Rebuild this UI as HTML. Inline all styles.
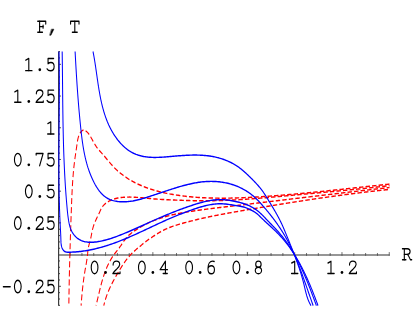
<!DOCTYPE html>
<html><head><meta charset="utf-8"><title>F, T vs R</title><style>
html,body{margin:0;padding:0;background:#fff;font-family:"Liberation Sans",sans-serif}
#c{position:relative;width:416px;height:319px;overflow:hidden;background:#fff}
.t{position:absolute;font-family:"Liberation Mono",monospace;font-size:18.3px;line-height:20px;height:20px;white-space:pre;color:transparent;user-select:none}
</style></head><body><div id="c">
<svg width="416" height="319" viewBox="0 0 416 319" style="position:absolute;left:0;top:0">
<rect x="58.0" y="254" width="331.6" height="2" fill="#969696"/>
<line x1="58.6" y1="51.5" x2="58.6" y2="305.8" stroke="#3c3c3c" stroke-width="1.2"/>
<g stroke="#404040" stroke-width="0.75" fill="none">
<line x1="70.12" y1="255.8" x2="70.12" y2="253.0"/>
<line x1="81.94" y1="255.8" x2="81.94" y2="253.0"/>
<line x1="93.76" y1="255.8" x2="93.76" y2="253.0"/>
<line x1="105.58" y1="255.8" x2="105.58" y2="252.1"/>
<line x1="117.40" y1="255.8" x2="117.40" y2="253.0"/>
<line x1="129.22" y1="255.8" x2="129.22" y2="253.0"/>
<line x1="141.04" y1="255.8" x2="141.04" y2="253.0"/>
<line x1="152.86" y1="255.8" x2="152.86" y2="252.1"/>
<line x1="164.68" y1="255.8" x2="164.68" y2="253.0"/>
<line x1="176.50" y1="255.8" x2="176.50" y2="253.0"/>
<line x1="188.32" y1="255.8" x2="188.32" y2="253.0"/>
<line x1="200.14" y1="255.8" x2="200.14" y2="252.1"/>
<line x1="211.96" y1="255.8" x2="211.96" y2="253.0"/>
<line x1="223.78" y1="255.8" x2="223.78" y2="253.0"/>
<line x1="235.60" y1="255.8" x2="235.60" y2="253.0"/>
<line x1="247.42" y1="255.8" x2="247.42" y2="252.1"/>
<line x1="259.24" y1="255.8" x2="259.24" y2="253.0"/>
<line x1="271.06" y1="255.8" x2="271.06" y2="253.0"/>
<line x1="282.88" y1="255.8" x2="282.88" y2="253.0"/>
<line x1="294.70" y1="255.8" x2="294.70" y2="252.1"/>
<line x1="306.52" y1="255.8" x2="306.52" y2="253.0"/>
<line x1="318.34" y1="255.8" x2="318.34" y2="253.0"/>
<line x1="330.16" y1="255.8" x2="330.16" y2="253.0"/>
<line x1="341.98" y1="255.8" x2="341.98" y2="252.1"/>
<line x1="353.80" y1="255.8" x2="353.80" y2="253.0"/>
<line x1="365.62" y1="255.8" x2="365.62" y2="253.0"/>
<line x1="377.44" y1="255.8" x2="377.44" y2="253.0"/>
<line x1="389.26" y1="255.8" x2="389.26" y2="252.1"/>
<line x1="58.6" y1="305.34" x2="60.00" y2="305.34" stroke-width="1.0"/>
<line x1="58.6" y1="299.00" x2="60.00" y2="299.00" stroke-width="1.0"/>
<line x1="58.6" y1="292.65" x2="60.00" y2="292.65" stroke-width="1.0"/>
<line x1="58.6" y1="286.31" x2="60.90" y2="286.31" stroke-width="1.0"/>
<line x1="58.6" y1="279.97" x2="60.00" y2="279.97" stroke-width="1.0"/>
<line x1="58.6" y1="273.63" x2="60.00" y2="273.63" stroke-width="1.0"/>
<line x1="58.6" y1="267.28" x2="60.00" y2="267.28" stroke-width="1.0"/>
<line x1="58.6" y1="260.94" x2="60.00" y2="260.94" stroke-width="1.0"/>
<line x1="58.6" y1="248.26" x2="60.00" y2="248.26" stroke-width="1.0"/>
<line x1="58.6" y1="241.91" x2="60.00" y2="241.91" stroke-width="1.0"/>
<line x1="58.6" y1="235.57" x2="60.00" y2="235.57" stroke-width="1.0"/>
<line x1="58.6" y1="229.23" x2="60.00" y2="229.23" stroke-width="1.0"/>
<line x1="58.6" y1="222.89" x2="60.90" y2="222.89" stroke-width="1.0"/>
<line x1="58.6" y1="216.54" x2="60.00" y2="216.54" stroke-width="1.0"/>
<line x1="58.6" y1="210.20" x2="60.00" y2="210.20" stroke-width="1.0"/>
<line x1="58.6" y1="203.86" x2="60.00" y2="203.86" stroke-width="1.0"/>
<line x1="58.6" y1="197.52" x2="60.00" y2="197.52" stroke-width="1.0"/>
<line x1="58.6" y1="191.18" x2="60.90" y2="191.18" stroke-width="1.0"/>
<line x1="58.6" y1="184.83" x2="60.00" y2="184.83" stroke-width="1.0"/>
<line x1="58.6" y1="178.49" x2="60.00" y2="178.49" stroke-width="1.0"/>
<line x1="58.6" y1="172.15" x2="60.00" y2="172.15" stroke-width="1.0"/>
<line x1="58.6" y1="165.81" x2="60.00" y2="165.81" stroke-width="1.0"/>
<line x1="58.6" y1="159.46" x2="60.90" y2="159.46" stroke-width="1.0"/>
<line x1="58.6" y1="153.12" x2="60.00" y2="153.12" stroke-width="1.0"/>
<line x1="58.6" y1="146.78" x2="60.00" y2="146.78" stroke-width="1.0"/>
<line x1="58.6" y1="140.44" x2="60.00" y2="140.44" stroke-width="1.0"/>
<line x1="58.6" y1="134.09" x2="60.00" y2="134.09" stroke-width="1.0"/>
<line x1="58.6" y1="127.75" x2="60.90" y2="127.75" stroke-width="1.0"/>
<line x1="58.6" y1="121.41" x2="60.00" y2="121.41" stroke-width="1.0"/>
<line x1="58.6" y1="115.06" x2="60.00" y2="115.06" stroke-width="1.0"/>
<line x1="58.6" y1="108.72" x2="60.00" y2="108.72" stroke-width="1.0"/>
<line x1="58.6" y1="102.38" x2="60.00" y2="102.38" stroke-width="1.0"/>
<line x1="58.6" y1="96.04" x2="60.90" y2="96.04" stroke-width="1.0"/>
<line x1="58.6" y1="89.69" x2="60.00" y2="89.69" stroke-width="1.0"/>
<line x1="58.6" y1="83.35" x2="60.00" y2="83.35" stroke-width="1.0"/>
<line x1="58.6" y1="77.01" x2="60.00" y2="77.01" stroke-width="1.0"/>
<line x1="58.6" y1="70.67" x2="60.00" y2="70.67" stroke-width="1.0"/>
<line x1="58.6" y1="64.33" x2="60.90" y2="64.33" stroke-width="1.0"/>
<line x1="58.6" y1="57.98" x2="60.00" y2="57.98" stroke-width="1.0"/>
<line x1="58.6" y1="51.64" x2="60.00" y2="51.64" stroke-width="1.0"/>
</g>
<g transform="scale(1 1.38)">
<g stroke="#ff0000" stroke-width="1.03" fill="none" stroke-dasharray="4.4 2.15">
<path d="M389.50 133.42 L388.23 133.51 L386.96 133.61 L385.69 133.71 L384.41 133.80 L383.14 133.90 L381.87 134.00 L380.60 134.10 L379.33 134.20 L378.06 134.29 L376.78 134.39 L375.51 134.49 L374.24 134.59 L372.97 134.69 L371.70 134.79 L370.43 134.89 L369.16 134.99 L367.89 135.09 L366.61 135.19 L365.34 135.29 L364.07 135.39 L362.80 135.50 L361.53 135.60 L360.26 135.70 L358.99 135.80 L357.72 135.90 L356.45 136.00 L355.18 136.10 L353.91 136.20 L352.64 136.30 L351.37 136.41 L350.10 136.51 L348.83 136.61 L347.56 136.71 L346.29 136.81 L345.02 136.91 L343.75 137.01 L342.47 137.11 L341.20 137.21 L339.93 137.31 L338.66 137.41 L337.39 137.51 L336.12 137.61 L334.85 137.71 L333.58 137.81 L332.31 137.91 L331.04 138.01 L329.77 138.10 L328.50 138.20 L327.23 138.30 L325.96 138.40 L324.69 138.49 L323.42 138.59 L322.15 138.69 L320.88 138.78 L319.61 138.88 L318.33 138.97 L317.06 139.07 L315.79 139.16 L314.52 139.25 L313.25 139.35 L311.98 139.44 L310.71 139.53 L309.44 139.62 L308.17 139.71 L306.89 139.80 L305.62 139.89 L304.35 139.98 L303.08 140.07 L301.81 140.16 L300.54 140.25 L299.26 140.33 L297.99 140.42 L296.72 140.50 L295.45 140.59 L294.17 140.67 L292.90 140.75 L291.63 140.84 L290.36 140.92 L289.08 141.00 L287.81 141.08 L286.54 141.16 L285.26 141.24 L283.99 141.31 L282.72 141.39 L281.44 141.47 L280.17 141.54 L278.89 141.62 L277.62 141.69 L276.35 141.76 L275.07 141.83 L273.80 141.90 L272.52 141.97 L271.25 142.04 L269.97 142.11 L268.70 142.17 L267.42 142.24 L266.14 142.30 L264.87 142.37 L263.59 142.43 L262.32 142.49 L261.04 142.55 L259.76 142.61 L258.49 142.67 L257.21 142.72 L255.93 142.78 L254.65 142.83 L253.38 142.89 L252.10 142.94 L250.82 142.99 L249.54 143.04 L248.26 143.08 L246.99 143.13 L245.71 143.17 L244.43 143.21 L243.15 143.25 L241.87 143.29 L240.59 143.33 L239.31 143.36 L238.03 143.40 L236.76 143.43 L235.48 143.46 L234.20 143.48 L232.92 143.50 L231.64 143.53 L230.36 143.55 L229.08 143.56 L227.80 143.58 L226.53 143.59 L225.25 143.60 L223.97 143.60 L222.69 143.61 L221.41 143.61 L220.13 143.60 L218.86 143.60 L217.58 143.59 L216.30 143.58 L215.02 143.57 L213.75 143.55 L212.47 143.53 L211.19 143.50 L209.92 143.48 L208.64 143.45 L207.36 143.41 L206.09 143.37 L204.81 143.33 L203.54 143.29 L202.26 143.24 L200.99 143.19 L199.72 143.13 L198.44 143.07 L197.17 143.01 L195.90 142.94 L194.62 142.87 L193.35 142.79 L192.08 142.71 L190.81 142.63 L189.54 142.54 L188.27 142.44 L187.00 142.35 L185.73 142.24 L184.46 142.14 L183.19 142.03 L181.92 141.91 L180.65 141.79 L179.38 141.66 L178.12 141.53 L176.85 141.40 L175.59 141.26 L174.32 141.11 L173.06 140.96 L171.80 140.80 L170.54 140.64 L169.28 140.47 L168.02 140.30 L166.77 140.11 L165.51 139.92 L164.26 139.73 L163.02 139.53 L161.77 139.32 L160.53 139.10 L159.29 138.87 L158.05 138.64 L156.82 138.40 L155.59 138.15 L154.36 137.89 L153.14 137.63 L151.92 137.35 L150.70 137.07 L149.49 136.78 L148.28 136.47 L147.08 136.16 L145.88 135.84 L144.69 135.51 L143.50 135.17 L142.32 134.81 L141.14 134.45 L139.97 134.08 L138.80 133.69 L137.64 133.30 L136.49 132.89 L135.34 132.48 L134.20 132.05 L133.07 131.61 L131.95 131.16 L130.83 130.70 L129.73 130.22 L128.63 129.74 L127.55 129.24 L126.47 128.73 L125.41 128.21 L124.36 127.68 L123.32 127.14 L122.30 126.58 L121.29 126.02 L120.29 125.44 L119.31 124.85 L118.34 124.25 L117.38 123.63 L116.45 123.01 L115.53 122.37 L114.62 121.72 L113.74 121.05 L112.87 120.38 L112.01 119.69 L111.16 119.00 L110.32 118.30 L109.49 117.60 L108.67 116.89 L107.85 116.18 L107.03 115.47 L106.21 114.75 L105.39 114.04 L104.56 113.34 L103.73 112.63 L102.88 111.93 L102.03 111.24 L101.17 110.55 L100.32 109.87 L99.47 109.17 L98.65 108.47 L97.84 107.75 L97.08 107.02 L96.34 106.26 L95.63 105.49 L94.95 104.71 L94.29 103.91 L93.65 103.11 L93.03 102.30 L92.41 101.48 L91.80 100.67 L91.20 99.86 L90.59 99.05 L89.94 98.25 L89.24 97.47 L88.46 96.71 L87.58 95.99 L86.56 95.30 L85.42 94.71 L84.24 94.33 L83.12 94.31 L82.10 94.69 L81.21 95.33 L80.43 96.09 L79.77 96.88 L79.20 97.71 L78.73 98.56 L78.33 99.44 L78.00 100.34 L77.73 101.25 L77.49 102.18 L77.29 103.11 L77.11 104.05 L76.93 104.99 L76.75 105.92 L76.57 106.85 L76.38 107.77 L76.19 108.69 L76.00 109.60 L75.81 110.52 L75.62 111.43 L75.43 112.34 L75.24 113.25 L75.06 114.16 L74.89 115.07 L74.72 115.98 L74.56 116.90 L74.40 117.81 L74.26 118.73 L74.11 119.64 L73.97 120.56 L73.84 121.48 L73.71 122.39 L73.59 123.31 L73.47 124.23 L73.35 125.15 L73.24 126.07 L73.14 127.00 L73.03 127.92 L72.94 128.84 L72.84 129.76 L72.75 130.69 L72.67 131.61 L72.58 132.54 L72.50 133.46 L72.43 134.39 L72.35 135.31 L72.28 136.24 L72.21 137.17 L72.15 138.09 L72.08 139.02 L72.02 139.95 L71.96 140.87 L71.91 141.80 L71.85 142.73 L71.79 143.66 L71.74 144.58 L71.69 145.51 L71.64 146.44 L71.59 147.37 L71.54 148.30 L71.49 149.22 L71.44 150.15 L71.40 151.08 L71.35 152.01 L71.30 152.93 L71.26 153.86 L71.21 154.79 L71.16 155.72 L71.12 156.64 L71.07 157.57 L71.03 158.50 L70.98 159.42 L70.94 160.35 L70.89 161.28 L70.85 162.20 L70.80 163.13 L70.76 164.05 L70.72 164.98 L70.67 165.91 L70.63 166.83 L70.59 167.76 L70.55 168.68 L70.51 169.61 L70.46 170.53 L70.42 171.46 L70.38 172.38 L70.34 173.31 L70.30 174.24 L70.26 175.16 L70.22 176.09 L70.18 177.01 L70.15 177.94 L70.11 178.86 L70.07 179.79 L70.03 180.71 L69.99 181.64 L69.96 182.56 L69.92 183.49 L69.89 184.41 L69.85 185.34 L69.82 186.26 L69.78 187.19 L69.75 188.11 L69.71 189.04 L69.68 189.96 L69.65 190.89 L69.61 191.81 L69.58 192.74 L69.55 193.66 L69.52 194.59 L69.49 195.51 L69.46 196.44 L69.43 197.36 L69.40 198.29 L69.37 199.21 L69.34 200.14 L69.32 201.07 L69.29 201.99 L69.26 202.92 L69.24 203.84 L69.21 204.77 L69.19 205.69 L69.16 206.62 L69.14 207.55 L69.11 208.47 L69.09 209.40 L69.07 210.33 L69.05 211.25 L69.02 212.18 L69.00 213.11 L68.98 214.03 L68.96 214.96 L68.94 215.89 L68.93 216.81 L68.91 217.74 L68.89 218.67 L68.87 219.60 L68.86 220.53 L68.84 221.45" stroke-dashoffset="0"/>
<path d="M389.50 134.49 L388.52 134.57 L387.54 134.66 L386.57 134.74 L385.59 134.83 L384.61 134.91 L383.63 134.99 L382.65 135.08 L381.67 135.16 L380.70 135.24 L379.72 135.32 L378.74 135.40 L377.76 135.48 L376.78 135.56 L375.80 135.64 L374.83 135.72 L373.85 135.79 L372.87 135.87 L371.89 135.95 L370.91 136.03 L369.93 136.10 L368.96 136.18 L367.98 136.25 L367.00 136.33 L366.02 136.40 L365.04 136.48 L364.06 136.55 L363.08 136.63 L362.11 136.70 L361.13 136.77 L360.15 136.85 L359.17 136.92 L358.19 136.99 L357.21 137.06 L356.24 137.13 L355.26 137.20 L354.28 137.27 L353.30 137.35 L352.32 137.42 L351.34 137.49 L350.36 137.56 L349.39 137.63 L348.41 137.69 L347.43 137.76 L346.45 137.83 L345.47 137.90 L344.49 137.97 L343.51 138.04 L342.54 138.11 L341.56 138.17 L340.58 138.24 L339.60 138.31 L338.62 138.38 L337.64 138.44 L336.66 138.51 L335.68 138.58 L334.71 138.64 L333.73 138.71 L332.75 138.78 L331.77 138.84 L330.79 138.91 L329.81 138.98 L328.83 139.04 L327.85 139.11 L326.87 139.17 L325.90 139.24 L324.92 139.31 L323.94 139.37 L322.96 139.44 L321.98 139.50 L321.00 139.57 L320.02 139.63 L319.04 139.70 L318.06 139.77 L317.08 139.83 L316.10 139.90 L315.12 139.96 L314.15 140.03 L313.17 140.09 L312.19 140.16 L311.21 140.22 L310.23 140.29 L309.25 140.36 L308.27 140.42 L307.29 140.49 L306.31 140.55 L305.33 140.62 L304.35 140.69 L303.37 140.75 L302.39 140.82 L301.41 140.89 L300.43 140.95 L299.45 141.02 L298.47 141.09 L297.49 141.15 L296.51 141.22 L295.53 141.29 L294.55 141.35 L293.57 141.42 L292.59 141.49 L291.61 141.56 L290.63 141.62 L289.65 141.69 L288.67 141.76 L287.69 141.82 L286.71 141.89 L285.73 141.96 L284.75 142.02 L283.77 142.09 L282.79 142.16 L281.81 142.22 L280.83 142.29 L279.85 142.35 L278.87 142.42 L277.89 142.48 L276.91 142.55 L275.93 142.61 L274.95 142.68 L273.97 142.74 L272.99 142.80 L272.01 142.87 L271.02 142.93 L270.04 142.99 L269.06 143.05 L268.08 143.12 L267.10 143.18 L266.12 143.24 L265.14 143.30 L264.16 143.36 L263.18 143.42 L262.20 143.48 L261.22 143.53 L260.23 143.59 L259.25 143.65 L258.27 143.71 L257.29 143.76 L256.31 143.82 L255.33 143.87 L254.35 143.93 L253.37 143.98 L252.38 144.03 L251.40 144.09 L250.42 144.14 L249.44 144.19 L248.46 144.24 L247.48 144.29 L246.49 144.34 L245.51 144.38 L244.53 144.43 L243.55 144.48 L242.57 144.52 L241.59 144.57 L240.60 144.61 L239.62 144.65 L238.64 144.70 L237.66 144.74 L236.68 144.78 L235.69 144.82 L234.71 144.85 L233.73 144.89 L232.75 144.93 L231.77 144.96 L230.78 145.00 L229.80 145.03 L228.82 145.06 L227.84 145.09 L226.85 145.12 L225.87 145.15 L224.89 145.18 L223.91 145.21 L222.92 145.23 L221.94 145.26 L220.96 145.28 L219.98 145.30 L218.99 145.32 L218.01 145.34 L217.03 145.36 L216.04 145.38 L215.06 145.40 L214.08 145.41 L213.10 145.42 L212.11 145.44 L211.13 145.45 L210.15 145.46 L209.16 145.46 L208.18 145.47 L207.20 145.48 L206.21 145.48 L205.23 145.48 L204.25 145.48 L203.26 145.48 L202.28 145.48 L201.30 145.48 L200.31 145.47 L199.33 145.47 L198.35 145.46 L197.36 145.45 L196.38 145.44 L195.40 145.43 L194.41 145.42 L193.43 145.41 L192.44 145.40 L191.46 145.38 L190.48 145.36 L189.49 145.35 L188.51 145.33 L187.53 145.31 L186.54 145.29 L185.56 145.27 L184.58 145.25 L183.59 145.22 L182.61 145.20 L181.63 145.17 L180.64 145.15 L179.66 145.12 L178.67 145.09 L177.69 145.07 L176.71 145.04 L175.72 145.01 L174.74 144.98 L173.76 144.95 L172.77 144.92 L171.79 144.88 L170.81 144.85 L169.83 144.82 L168.84 144.78 L167.86 144.75 L166.88 144.71 L165.89 144.68 L164.91 144.64 L163.93 144.61 L162.95 144.57 L161.96 144.53 L160.98 144.49 L160.00 144.45 L159.02 144.40 L158.04 144.36 L157.05 144.31 L156.07 144.26 L155.09 144.20 L154.11 144.15 L153.13 144.09 L152.15 144.02 L151.17 143.96 L150.19 143.89 L149.22 143.82 L148.24 143.75 L147.26 143.68 L146.28 143.61 L145.30 143.54 L144.32 143.48 L143.34 143.41 L142.36 143.34 L141.39 143.28 L140.41 143.21 L139.43 143.15 L138.45 143.10 L137.47 143.05 L136.48 143.00 L135.50 142.96 L134.52 142.92 L133.54 142.88 L132.55 142.86 L131.57 142.84 L130.59 142.82 L129.60 142.81 L128.61 142.82 L127.63 142.82 L126.64 142.84 L125.65 142.87 L124.66 142.90 L123.67 142.95 L122.68 143.01 L121.70 143.08 L120.72 143.17 L119.74 143.27 L118.77 143.38 L117.80 143.52 L116.84 143.67 L115.89 143.83 L114.94 144.02 L114.01 144.22 L113.08 144.45 L112.16 144.70 L111.25 144.97 L110.36 145.26 L109.48 145.58 L108.61 145.92 L107.75 146.29 L106.92 146.69 L106.10 147.11 L105.32 147.56 L104.57 148.04 L103.86 148.54 L103.20 149.06 L102.59 149.62 L102.04 150.20 L101.54 150.80 L101.10 151.42 L100.68 152.06 L100.27 152.70 L99.87 153.35 L99.46 154.00 L99.04 154.64 L98.61 155.29 L98.18 155.93 L97.75 156.58 L97.32 157.22 L96.89 157.87 L96.47 158.52 L96.05 159.17 L95.64 159.82 L95.24 160.47 L94.86 161.13 L94.48 161.79 L94.13 162.45 L93.80 163.12 L93.48 163.79 L93.19 164.47 L92.93 165.15 L92.68 165.84 L92.45 166.53 L92.24 167.23 L92.04 167.92 L91.85 168.62 L91.66 169.32 L91.48 170.02 L91.29 170.73 L91.10 171.43 L90.90 172.13 L90.70 172.83 L90.47 173.52 L90.23 174.21 L89.98 174.90 L89.71 175.59 L89.45 176.28 L89.18 176.97 L88.92 177.66 L88.69 178.35 L88.47 179.04 L88.28 179.73 L88.12 180.43 L87.99 181.14 L87.89 181.85 L87.79 182.55 L87.70 183.26 L87.62 183.97 L87.52 184.68 L87.41 185.39 L87.29 186.10 L87.17 186.81 L87.03 187.51 L86.88 188.22 L86.73 188.92 L86.57 189.63 L86.41 190.33 L86.24 191.03 L86.07 191.74 L85.90 192.44 L85.72 193.14 L85.55 193.84 L85.38 194.55 L85.21 195.25 L85.04 195.95 L84.88 196.65 L84.72 197.36 L84.57 198.06 L84.41 198.77 L84.27 199.47 L84.12 200.18 L83.98 200.88 L83.84 201.59 L83.71 202.29 L83.58 203.00 L83.45 203.71 L83.32 204.41 L83.20 205.12 L83.08 205.83 L82.97 206.54 L82.86 207.24 L82.75 207.95 L82.64 208.66 L82.53 209.37 L82.43 210.08 L82.33 210.79 L82.23 211.50 L82.14 212.21 L82.05 212.92 L81.96 213.63 L81.87 214.34 L81.78 215.05 L81.70 215.76 L81.62 216.47 L81.54 217.18 L81.46 217.89 L81.39 218.60 L81.31 219.31 L81.24 220.03 L81.17 220.74 L81.10 221.45" stroke-dashoffset="3.6"/>
<path d="M389.50 135.87 L388.64 135.94 L387.77 136.01 L386.91 136.08 L386.05 136.15 L385.19 136.22 L384.32 136.29 L383.46 136.36 L382.60 136.43 L381.74 136.50 L380.87 136.57 L380.01 136.65 L379.15 136.72 L378.29 136.79 L377.42 136.86 L376.56 136.93 L375.70 137.00 L374.84 137.07 L373.98 137.14 L373.11 137.22 L372.25 137.29 L371.39 137.36 L370.53 137.43 L369.66 137.50 L368.80 137.58 L367.94 137.65 L367.08 137.72 L366.21 137.79 L365.35 137.86 L364.49 137.94 L363.63 138.01 L362.77 138.08 L361.90 138.15 L361.04 138.23 L360.18 138.30 L359.32 138.37 L358.46 138.44 L357.59 138.52 L356.73 138.59 L355.87 138.66 L355.01 138.73 L354.14 138.81 L353.28 138.88 L352.42 138.95 L351.56 139.03 L350.70 139.10 L349.83 139.17 L348.97 139.25 L348.11 139.32 L347.25 139.39 L346.39 139.47 L345.52 139.54 L344.66 139.61 L343.80 139.69 L342.94 139.76 L342.08 139.83 L341.22 139.91 L340.35 139.98 L339.49 140.05 L338.63 140.13 L337.77 140.20 L336.91 140.27 L336.04 140.35 L335.18 140.42 L334.32 140.50 L333.46 140.57 L332.60 140.64 L331.73 140.72 L330.87 140.79 L330.01 140.87 L329.15 140.94 L328.29 141.01 L327.43 141.09 L326.56 141.16 L325.70 141.24 L324.84 141.31 L323.98 141.38 L323.12 141.46 L322.26 141.53 L321.39 141.61 L320.53 141.68 L319.67 141.76 L318.81 141.83 L317.95 141.91 L317.08 141.98 L316.22 142.05 L315.36 142.13 L314.50 142.20 L313.64 142.28 L312.78 142.35 L311.91 142.43 L311.05 142.50 L310.19 142.58 L309.33 142.65 L308.47 142.72 L307.61 142.80 L306.74 142.87 L305.88 142.95 L305.02 143.02 L304.16 143.10 L303.30 143.17 L302.44 143.25 L301.57 143.32 L300.71 143.40 L299.85 143.47 L298.99 143.55 L298.13 143.62 L297.27 143.70 L296.40 143.77 L295.54 143.85 L294.68 143.92 L293.82 144.00 L292.96 144.07 L292.10 144.14 L291.23 144.22 L290.37 144.29 L289.51 144.37 L288.65 144.44 L287.79 144.52 L286.93 144.59 L286.06 144.67 L285.20 144.74 L284.34 144.82 L283.48 144.89 L282.62 144.97 L281.76 145.04 L280.89 145.12 L280.03 145.19 L279.17 145.27 L278.31 145.34 L277.45 145.42 L276.59 145.49 L275.72 145.57 L274.86 145.64 L274.00 145.72 L273.14 145.79 L272.28 145.86 L271.42 145.94 L270.55 146.01 L269.69 146.09 L268.83 146.16 L267.97 146.24 L267.11 146.31 L266.24 146.39 L265.38 146.46 L264.52 146.54 L263.66 146.61 L262.80 146.69 L261.94 146.76 L261.07 146.83 L260.21 146.91 L259.35 146.98 L258.49 147.06 L257.63 147.13 L256.76 147.21 L255.90 147.28 L255.04 147.36 L254.18 147.43 L253.32 147.50 L252.46 147.58 L251.59 147.65 L250.73 147.73 L249.87 147.80 L249.01 147.88 L248.15 147.95 L247.28 148.02 L246.42 148.10 L245.56 148.17 L244.70 148.25 L243.84 148.32 L242.97 148.39 L242.11 148.47 L241.25 148.54 L240.39 148.62 L239.53 148.69 L238.66 148.76 L237.80 148.84 L236.94 148.91 L236.08 148.98 L235.22 149.06 L234.35 149.13 L233.49 149.21 L232.63 149.28 L231.77 149.35 L230.90 149.43 L230.04 149.50 L229.18 149.57 L228.32 149.65 L227.46 149.72 L226.59 149.79 L225.73 149.87 L224.87 149.94 L224.01 150.01 L223.14 150.09 L222.28 150.16 L221.42 150.24 L220.56 150.31 L219.70 150.39 L218.83 150.46 L217.97 150.54 L217.11 150.61 L216.25 150.69 L215.39 150.76 L214.53 150.84 L213.66 150.92 L212.80 151.00 L211.94 151.07 L211.08 151.15 L210.22 151.23 L209.36 151.31 L208.50 151.39 L207.64 151.47 L206.77 151.55 L205.91 151.63 L205.05 151.71 L204.19 151.80 L203.33 151.88 L202.47 151.96 L201.61 152.05 L200.75 152.14 L199.89 152.22 L199.03 152.31 L198.17 152.40 L197.31 152.49 L196.45 152.58 L195.60 152.67 L194.74 152.76 L193.88 152.85 L193.02 152.94 L192.16 153.04 L191.30 153.13 L190.45 153.23 L189.59 153.33 L188.73 153.42 L187.87 153.52 L187.02 153.63 L186.16 153.73 L185.30 153.83 L184.45 153.94 L183.59 154.05 L182.74 154.16 L181.89 154.27 L181.03 154.38 L180.18 154.50 L179.33 154.62 L178.48 154.74 L177.63 154.86 L176.78 154.99 L175.93 155.11 L175.09 155.24 L174.24 155.38 L173.39 155.52 L172.55 155.65 L171.71 155.80 L170.87 155.94 L170.02 156.09 L169.19 156.25 L168.35 156.40 L167.51 156.56 L166.68 156.73 L165.84 156.89 L165.01 157.06 L164.18 157.24 L163.35 157.42 L162.52 157.60 L161.69 157.79 L160.87 157.98 L160.05 158.18 L159.23 158.38 L158.41 158.58 L157.59 158.80 L156.77 159.01 L155.96 159.23 L155.15 159.46 L154.34 159.69 L153.53 159.92 L152.72 160.16 L151.92 160.41 L151.12 160.66 L150.32 160.91 L149.52 161.17 L148.73 161.44 L147.94 161.71 L147.15 161.99 L146.37 162.27 L145.59 162.55 L144.81 162.84 L144.03 163.14 L143.26 163.44 L142.49 163.74 L141.73 164.05 L140.97 164.36 L140.21 164.68 L139.46 165.00 L138.71 165.33 L137.97 165.66 L137.23 165.99 L136.50 166.33 L135.77 166.67 L135.04 167.02 L134.33 167.37 L133.61 167.72 L132.91 168.09 L132.22 168.46 L131.53 168.84 L130.86 169.22 L130.20 169.62 L129.55 170.02 L128.92 170.44 L128.30 170.86 L127.70 171.30 L127.11 171.75 L126.55 172.22 L125.99 172.70 L125.46 173.18 L124.94 173.68 L124.42 174.18 L123.92 174.69 L123.42 175.21 L122.93 175.73 L122.44 176.25 L121.95 176.78 L121.46 177.30 L120.97 177.83 L120.48 178.35 L119.98 178.87 L119.47 179.39 L118.95 179.90 L118.43 180.40 L117.89 180.90 L117.36 181.40 L116.81 181.89 L116.27 182.38 L115.74 182.88 L115.20 183.38 L114.67 183.87 L114.16 184.38 L113.65 184.88 L113.15 185.40 L112.66 185.92 L112.19 186.44 L111.72 186.97 L111.27 187.50 L110.83 188.04 L110.40 188.59 L109.97 189.13 L109.56 189.69 L109.16 190.24 L108.76 190.80 L108.38 191.36 L108.00 191.93 L107.64 192.50 L107.28 193.07 L106.93 193.65 L106.59 194.23 L106.26 194.81 L105.93 195.39 L105.61 195.98 L105.30 196.56 L105.00 197.15 L104.70 197.74 L104.41 198.34 L104.13 198.93 L103.85 199.53 L103.58 200.13 L103.32 200.73 L103.06 201.33 L102.80 201.93 L102.56 202.53 L102.31 203.14 L102.07 203.74 L101.83 204.35 L101.60 204.96 L101.37 205.57 L101.15 206.18 L100.93 206.79 L100.71 207.40 L100.50 208.01 L100.28 208.62 L100.07 209.23 L99.86 209.84 L99.66 210.46 L99.45 211.07 L99.25 211.68 L99.05 212.30 L98.85 212.91 L98.65 213.52 L98.45 214.14 L98.25 214.75 L98.05 215.36 L97.85 215.97 L97.65 216.58 L97.44 217.19 L97.24 217.80 L97.04 218.41 L96.83 219.02 L96.63 219.63 L96.42 220.24 L96.21 220.84 L95.99 221.45" stroke-dashoffset="1.6"/>
<path d="M389.50 137.25 L388.68 137.31 L387.86 137.37 L387.04 137.44 L386.22 137.50 L385.40 137.56 L384.58 137.63 L383.75 137.69 L382.93 137.75 L382.11 137.82 L381.29 137.88 L380.47 137.95 L379.65 138.02 L378.83 138.08 L378.01 138.15 L377.19 138.22 L376.37 138.28 L375.55 138.35 L374.73 138.42 L373.91 138.49 L373.09 138.55 L372.27 138.62 L371.45 138.69 L370.63 138.76 L369.81 138.83 L368.99 138.90 L368.17 138.97 L367.35 139.04 L366.53 139.11 L365.71 139.18 L364.89 139.25 L364.07 139.32 L363.26 139.40 L362.44 139.47 L361.62 139.54 L360.80 139.61 L359.98 139.69 L359.16 139.76 L358.34 139.83 L357.52 139.91 L356.70 139.98 L355.88 140.06 L355.07 140.13 L354.25 140.21 L353.43 140.28 L352.61 140.36 L351.79 140.43 L350.97 140.51 L350.15 140.59 L349.34 140.66 L348.52 140.74 L347.70 140.82 L346.88 140.90 L346.06 140.97 L345.25 141.05 L344.43 141.13 L343.61 141.21 L342.79 141.29 L341.97 141.37 L341.16 141.45 L340.34 141.53 L339.52 141.61 L338.70 141.69 L337.88 141.77 L337.07 141.85 L336.25 141.93 L335.43 142.01 L334.61 142.09 L333.80 142.17 L332.98 142.25 L332.16 142.34 L331.34 142.42 L330.53 142.50 L329.71 142.59 L328.89 142.67 L328.08 142.75 L327.26 142.84 L326.44 142.92 L325.62 143.00 L324.81 143.09 L323.99 143.17 L323.17 143.26 L322.36 143.34 L321.54 143.43 L320.72 143.51 L319.91 143.60 L319.09 143.69 L318.27 143.77 L317.46 143.86 L316.64 143.95 L315.82 144.03 L315.01 144.12 L314.19 144.21 L313.38 144.29 L312.56 144.38 L311.74 144.47 L310.93 144.56 L310.11 144.65 L309.30 144.74 L308.48 144.82 L307.66 144.91 L306.85 145.00 L306.03 145.09 L305.22 145.18 L304.40 145.27 L303.58 145.36 L302.77 145.45 L301.95 145.54 L301.14 145.63 L300.32 145.72 L299.51 145.82 L298.69 145.91 L297.87 146.00 L297.06 146.09 L296.24 146.18 L295.43 146.27 L294.61 146.37 L293.80 146.46 L292.98 146.55 L292.17 146.64 L291.35 146.74 L290.54 146.83 L289.72 146.92 L288.91 147.02 L288.09 147.11 L287.28 147.21 L286.46 147.30 L285.65 147.39 L284.83 147.49 L284.02 147.58 L283.20 147.68 L282.39 147.77 L281.57 147.87 L280.76 147.96 L279.94 148.06 L279.13 148.16 L278.31 148.25 L277.50 148.35 L276.68 148.44 L275.87 148.54 L275.06 148.64 L274.24 148.73 L273.43 148.83 L272.61 148.93 L271.80 149.02 L270.98 149.12 L270.17 149.22 L269.36 149.32 L268.54 149.41 L267.73 149.51 L266.91 149.61 L266.10 149.71 L265.28 149.81 L264.47 149.90 L263.66 150.00 L262.84 150.10 L262.03 150.20 L261.21 150.30 L260.40 150.40 L259.59 150.50 L258.77 150.60 L257.96 150.70 L257.15 150.80 L256.33 150.90 L255.52 151.00 L254.70 151.10 L253.89 151.20 L253.08 151.30 L252.26 151.40 L251.45 151.50 L250.64 151.60 L249.82 151.70 L249.01 151.80 L248.20 151.90 L247.38 152.00 L246.57 152.10 L245.76 152.21 L244.94 152.31 L244.13 152.41 L243.32 152.51 L242.50 152.61 L241.69 152.71 L240.88 152.82 L240.06 152.92 L239.25 153.02 L238.44 153.12 L237.62 153.23 L236.81 153.33 L236.00 153.43 L235.19 153.54 L234.37 153.64 L233.56 153.75 L232.75 153.85 L231.94 153.96 L231.12 154.06 L230.31 154.17 L229.50 154.27 L228.69 154.38 L227.88 154.49 L227.06 154.59 L226.25 154.70 L225.44 154.81 L224.63 154.92 L223.82 155.03 L223.01 155.14 L222.20 155.25 L221.39 155.36 L220.58 155.47 L219.77 155.59 L218.96 155.70 L218.15 155.81 L217.34 155.93 L216.53 156.04 L215.72 156.16 L214.91 156.28 L214.10 156.39 L213.29 156.51 L212.48 156.63 L211.68 156.75 L210.87 156.87 L210.06 156.99 L209.25 157.12 L208.45 157.24 L207.64 157.36 L206.83 157.49 L206.03 157.61 L205.22 157.74 L204.42 157.87 L203.61 158.00 L202.81 158.13 L202.00 158.26 L201.20 158.39 L200.39 158.53 L199.59 158.66 L198.79 158.79 L197.98 158.93 L197.18 159.07 L196.38 159.21 L195.58 159.35 L194.77 159.49 L193.97 159.63 L193.17 159.78 L192.37 159.92 L191.57 160.07 L190.77 160.21 L189.97 160.36 L189.17 160.51 L188.37 160.67 L187.58 160.82 L186.78 160.97 L185.98 161.13 L185.18 161.29 L184.39 161.44 L183.59 161.60 L182.80 161.77 L182.00 161.93 L181.21 162.09 L180.41 162.26 L179.62 162.43 L178.83 162.60 L178.03 162.77 L177.24 162.94 L176.45 163.12 L175.66 163.29 L174.87 163.48 L174.09 163.66 L173.30 163.85 L172.52 164.04 L171.74 164.24 L170.97 164.45 L170.20 164.66 L169.43 164.87 L168.66 165.09 L167.90 165.32 L167.14 165.56 L166.39 165.80 L165.64 166.05 L164.90 166.31 L164.16 166.58 L163.43 166.85 L162.70 167.13 L161.97 167.41 L161.25 167.70 L160.53 168.00 L159.81 168.30 L159.10 168.60 L158.39 168.91 L157.68 169.22 L156.98 169.54 L156.28 169.85 L155.58 170.18 L154.88 170.50 L154.19 170.82 L153.49 171.15 L152.80 171.48 L152.12 171.81 L151.43 172.14 L150.75 172.47 L150.07 172.81 L149.39 173.15 L148.72 173.49 L148.05 173.84 L147.39 174.19 L146.73 174.55 L146.08 174.91 L145.43 175.27 L144.78 175.64 L144.14 176.02 L143.50 176.39 L142.87 176.77 L142.23 177.15 L141.59 177.53 L140.95 177.91 L140.31 178.29 L139.68 178.68 L139.04 179.06 L138.40 179.44 L137.76 179.82 L137.12 180.21 L136.49 180.60 L135.86 180.99 L135.24 181.38 L134.62 181.78 L134.00 182.18 L133.39 182.58 L132.79 182.99 L132.20 183.41 L131.61 183.83 L131.04 184.25 L130.47 184.69 L129.91 185.12 L129.37 185.57 L128.83 186.02 L128.30 186.47 L127.78 186.93 L127.27 187.40 L126.76 187.87 L126.26 188.34 L125.77 188.82 L125.29 189.30 L124.81 189.79 L124.34 190.28 L123.88 190.77 L123.42 191.27 L122.96 191.77 L122.51 192.27 L122.06 192.78 L121.62 193.28 L121.18 193.79 L120.74 194.30 L120.31 194.81 L119.87 195.33 L119.44 195.84 L119.02 196.35 L118.59 196.87 L118.16 197.38 L117.74 197.90 L117.32 198.42 L116.90 198.93 L116.49 199.45 L116.08 199.97 L115.67 200.49 L115.26 201.02 L114.86 201.54 L114.46 202.06 L114.06 202.59 L113.67 203.12 L113.28 203.64 L112.90 204.17 L112.52 204.70 L112.14 205.24 L111.77 205.77 L111.40 206.31 L111.04 206.84 L110.68 207.38 L110.33 207.92 L109.98 208.46 L109.64 209.00 L109.31 209.55 L108.98 210.09 L108.65 210.64 L108.33 211.19 L108.02 211.74 L107.71 212.30 L107.41 212.85 L107.12 213.41 L106.83 213.97 L106.55 214.53 L106.28 215.10 L106.02 215.66 L105.76 216.23 L105.51 216.80 L105.26 217.37 L105.03 217.95 L104.80 218.52 L104.58 219.10 L104.37 219.69 L104.17 220.27 L103.98 220.86 L103.79 221.45" stroke-dashoffset="5.0"/>
</g>
<g stroke="#0000ff" stroke-width="1.03" fill="none" stroke-linejoin="round">
<path d="M58.99 37.32 L59.02 38.25 L59.05 39.19 L59.07 40.12 L59.10 41.05 L59.12 41.99 L59.14 42.92 L59.16 43.85 L59.18 44.79 L59.19 45.72 L59.21 46.66 L59.23 47.59 L59.24 48.53 L59.25 49.46 L59.26 50.40 L59.27 51.33 L59.28 52.27 L59.29 53.20 L59.30 54.14 L59.31 55.07 L59.31 56.01 L59.32 56.95 L59.32 57.88 L59.32 58.82 L59.32 59.76 L59.33 60.69 L59.33 61.63 L59.33 62.56 L59.32 63.50 L59.32 64.44 L59.32 65.38 L59.32 66.31 L59.31 67.25 L59.31 68.19 L59.30 69.12 L59.30 70.06 L59.29 71.00 L59.29 71.94 L59.28 72.87 L59.27 73.81 L59.26 74.75 L59.25 75.69 L59.25 76.63 L59.24 77.56 L59.23 78.50 L59.22 79.44 L59.21 80.38 L59.20 81.32 L59.19 82.26 L59.18 83.19 L59.17 84.13 L59.15 85.07 L59.14 86.01 L59.13 86.95 L59.12 87.89 L59.11 88.82 L59.10 89.76 L59.09 90.70 L59.07 91.64 L59.06 92.58 L59.05 93.52 L59.04 94.46 L59.03 95.40 L59.02 96.33 L59.01 97.27 L59.00 98.21 L58.99 99.15 L58.98 100.09 L58.97 101.03 L58.96 101.97 L58.95 102.90 L58.94 103.84 L58.93 104.78 L58.92 105.72 L58.92 106.66 L58.91 107.60 L58.90 108.54 L58.90 109.47 L58.89 110.41 L58.88 111.35 L58.88 112.29 L58.88 113.23 L58.87 114.17 L58.87 115.10 L58.87 116.04 L58.87 116.98 L58.87 117.92 L58.87 118.85 L58.87 119.79 L58.87 120.73 L58.87 121.67 L58.88 122.61 L58.88 123.54 L58.89 124.48 L58.89 125.42 L58.90 126.35 L58.91 127.29 L58.92 128.23 L58.93 129.17 L58.94 130.10 L58.95 131.04 L58.96 131.98 L58.98 132.91 L58.99 133.85 L59.01 134.79 L59.03 135.72 L59.05 136.66 L59.07 137.59 L59.09 138.53 L59.12 139.46 L59.14 140.40 L59.17 141.34 L59.19 142.27 L59.22 143.21 L59.25 144.14 L59.28 145.08 L59.32 146.01 L59.35 146.94 L59.39 147.88 L59.43 148.81 L59.47 149.75 L59.51 150.68 L59.55 151.61 L59.59 152.55 L59.64 153.48 L59.69 154.41 L59.74 155.35 L59.79 156.28 L59.84 157.21 L59.90 158.14 L59.95 159.08 L60.01 160.01 L60.07 160.94 L60.14 161.87 L60.20 162.80 L60.27 163.73 L60.33 164.67 L60.40 165.60 L60.47 166.53 L60.54 167.47 L60.60 168.40 L60.67 169.34 L60.73 170.28 L60.78 171.23 L60.83 172.18 L60.88 173.13 L60.92 174.09 L60.96 175.05 L61.02 176.01 L61.14 176.97 L61.33 177.92 L61.64 178.85 L62.08 179.77 L62.67 180.65 L63.41 181.42 L64.31 182.04 L65.36 182.45 L66.53 182.67 L67.79 182.75 L69.09 182.76 L70.40 182.74 L71.71 182.71 L73.01 182.67 L74.32 182.62 L75.62 182.55 L76.91 182.47 L78.21 182.39 L79.50 182.29 L80.79 182.19 L82.07 182.07 L83.36 181.94 L84.64 181.80 L85.92 181.66 L87.19 181.50 L88.46 181.34 L89.73 181.16 L91.00 180.98 L92.27 180.79 L93.53 180.59 L94.79 180.38 L96.04 180.17 L97.30 179.94 L98.55 179.71 L99.80 179.47 L101.05 179.22 L102.29 178.97 L103.53 178.71 L104.77 178.44 L106.00 178.16 L107.24 177.88 L108.47 177.59 L109.70 177.30 L110.92 177.00 L112.15 176.69 L113.37 176.38 L114.59 176.06 L115.80 175.74 L117.01 175.41 L118.23 175.08 L119.43 174.74 L120.64 174.40 L121.84 174.05 L123.04 173.70 L124.24 173.35 L125.44 172.99 L126.63 172.62 L127.82 172.26 L129.01 171.89 L130.20 171.51 L131.38 171.14 L132.57 170.76 L133.75 170.38 L134.93 169.99 L136.11 169.61 L137.28 169.22 L138.46 168.83 L139.63 168.44 L140.81 168.04 L141.98 167.65 L143.15 167.25 L144.32 166.85 L145.49 166.46 L146.66 166.06 L147.83 165.66 L149.00 165.26 L150.17 164.86 L151.34 164.46 L152.50 164.06 L153.67 163.67 L154.84 163.27 L156.01 162.87 L157.18 162.48 L158.36 162.08 L159.53 161.69 L160.70 161.30 L161.87 160.91 L163.05 160.53 L164.23 160.14 L165.40 159.76 L166.58 159.38 L167.76 159.00 L168.95 158.63 L170.13 158.26 L171.32 157.89 L172.51 157.52 L173.70 157.16 L174.89 156.80 L176.08 156.44 L177.28 156.09 L178.48 155.74 L179.68 155.39 L180.88 155.05 L182.08 154.71 L183.29 154.37 L184.50 154.03 L185.71 153.70 L186.93 153.37 L188.14 153.05 L189.36 152.73 L190.59 152.41 L191.81 152.09 L193.04 151.78 L194.27 151.48 L195.50 151.17 L196.74 150.88 L197.98 150.59 L199.22 150.31 L200.46 150.04 L201.71 149.78 L202.96 149.53 L204.21 149.29 L205.46 149.06 L206.72 148.85 L207.98 148.65 L209.25 148.47 L210.51 148.30 L211.78 148.15 L213.05 148.02 L214.33 147.91 L215.60 147.81 L216.88 147.74 L218.17 147.69 L219.45 147.66 L220.74 147.65 L222.03 147.67 L223.32 147.71 L224.62 147.78 L225.92 147.87 L227.22 147.98 L228.52 148.11 L229.82 148.25 L231.11 148.40 L232.41 148.55 L233.70 148.71 L234.99 148.86 L236.27 149.01 L237.54 149.16 L238.81 149.29 L240.08 149.43 L241.33 149.59 L242.57 149.78 L243.80 150.01 L245.02 150.30 L246.24 150.63 L247.44 150.99 L248.63 151.38 L249.82 151.79 L251.00 152.20 L252.17 152.62 L253.32 153.07 L254.43 153.54 L255.50 154.05 L256.53 154.60 L257.51 155.19 L258.45 155.82 L259.37 156.47 L260.29 157.12 L261.21 157.78 L262.14 158.43 L263.08 159.07 L264.02 159.72 L264.97 160.36 L265.92 160.99 L266.87 161.63 L267.83 162.27 L268.79 162.90 L269.74 163.54 L270.70 164.18 L271.66 164.82 L272.61 165.46 L273.55 166.10 L274.49 166.75 L275.43 167.40 L276.36 168.06 L277.27 168.72 L278.18 169.39 L279.08 170.06 L279.97 170.74 L280.84 171.43 L281.71 172.12 L282.56 172.82 L283.40 173.53 L284.23 174.25 L285.05 174.97 L285.86 175.69 L286.66 176.43 L287.45 177.17 L288.22 177.91 L288.99 178.66 L289.75 179.42 L290.50 180.18 L291.23 180.94 L291.96 181.72 L292.68 182.49 L293.39 183.27 L294.09 184.06 L294.78 184.85 L295.46 185.65 L296.14 186.45 L296.80 187.25 L297.46 188.06 L298.11 188.87 L298.75 189.69 L299.38 190.51 L300.00 191.33 L300.62 192.16 L301.23 192.99 L301.83 193.82 L302.43 194.66 L303.01 195.50 L303.59 196.34 L304.17 197.19 L304.73 198.04 L305.29 198.89 L305.85 199.74 L306.39 200.59 L306.93 201.45 L307.47 202.31 L308.00 203.17 L308.52 204.03 L309.04 204.90 L309.55 205.76 L310.06 206.63 L310.56 207.50 L311.06 208.37 L311.55 209.24 L312.04 210.11 L312.52 210.98 L313.00 211.85 L313.47 212.72 L313.94 213.60 L314.41 214.47 L314.87 215.34 L315.33 216.21 L315.78 217.09 L316.23 217.96 L316.68 218.83 L317.12 219.70 L317.56 220.57 L318.00 221.44"/>
<path d="M62.17 37.32 L62.19 38.22 L62.21 39.11 L62.23 40.01 L62.24 40.90 L62.26 41.79 L62.28 42.69 L62.29 43.58 L62.31 44.48 L62.33 45.37 L62.34 46.27 L62.36 47.16 L62.37 48.06 L62.38 48.95 L62.40 49.85 L62.41 50.75 L62.42 51.64 L62.44 52.54 L62.45 53.43 L62.46 54.33 L62.48 55.22 L62.49 56.12 L62.50 57.01 L62.51 57.91 L62.52 58.81 L62.54 59.70 L62.55 60.60 L62.56 61.49 L62.57 62.39 L62.58 63.29 L62.59 64.18 L62.61 65.08 L62.62 65.97 L62.63 66.87 L62.64 67.77 L62.66 68.66 L62.67 69.56 L62.68 70.45 L62.69 71.35 L62.71 72.25 L62.72 73.14 L62.73 74.04 L62.75 74.94 L62.76 75.83 L62.78 76.73 L62.79 77.63 L62.81 78.52 L62.82 79.42 L62.84 80.31 L62.85 81.21 L62.87 82.11 L62.89 83.00 L62.91 83.90 L62.93 84.80 L62.94 85.69 L62.96 86.59 L62.98 87.48 L63.00 88.38 L63.03 89.28 L63.05 90.17 L63.07 91.07 L63.09 91.97 L63.12 92.86 L63.14 93.76 L63.17 94.65 L63.19 95.55 L63.22 96.45 L63.25 97.34 L63.28 98.24 L63.30 99.13 L63.33 100.03 L63.37 100.93 L63.40 101.82 L63.43 102.72 L63.46 103.61 L63.50 104.51 L63.53 105.40 L63.57 106.30 L63.61 107.20 L63.65 108.09 L63.69 108.99 L63.73 109.88 L63.77 110.78 L63.81 111.67 L63.86 112.57 L63.90 113.46 L63.95 114.36 L64.00 115.25 L64.05 116.15 L64.10 117.04 L64.15 117.94 L64.20 118.83 L64.26 119.73 L64.31 120.62 L64.37 121.52 L64.43 122.41 L64.48 123.30 L64.55 124.20 L64.61 125.09 L64.67 125.99 L64.74 126.88 L64.80 127.77 L64.87 128.67 L64.94 129.56 L65.01 130.46 L65.09 131.35 L65.16 132.24 L65.24 133.14 L65.31 134.03 L65.39 134.92 L65.47 135.81 L65.56 136.71 L65.64 137.60 L65.73 138.49 L65.82 139.38 L65.91 140.28 L66.00 141.17 L66.09 142.06 L66.19 142.95 L66.28 143.84 L66.38 144.74 L66.48 145.63 L66.59 146.52 L66.69 147.41 L66.80 148.30 L66.91 149.19 L67.02 150.08 L67.13 150.97 L67.24 151.87 L67.36 152.76 L67.49 153.65 L67.62 154.54 L67.75 155.43 L67.90 156.32 L68.06 157.21 L68.23 158.11 L68.41 159.00 L68.60 159.89 L68.82 160.79 L69.05 161.68 L69.31 162.57 L69.60 163.45 L69.94 164.32 L70.31 165.18 L70.74 166.03 L71.22 166.85 L71.76 167.66 L72.37 168.45 L73.03 169.20 L73.75 169.93 L74.53 170.63 L75.36 171.29 L76.24 171.91 L77.17 172.48 L78.15 173.02 L79.18 173.50 L80.25 173.94 L81.36 174.32 L82.50 174.64 L83.69 174.91 L84.89 175.13 L86.12 175.30 L87.36 175.42 L88.61 175.51 L89.86 175.56 L91.11 175.57 L92.35 175.55 L93.59 175.50 L94.83 175.42 L96.07 175.32 L97.31 175.20 L98.54 175.05 L99.76 174.89 L100.98 174.71 L102.19 174.52 L103.40 174.32 L104.60 174.11 L105.80 173.88 L106.99 173.65 L108.18 173.40 L109.36 173.14 L110.54 172.88 L111.71 172.60 L112.88 172.32 L114.05 172.03 L115.21 171.73 L116.37 171.43 L117.53 171.11 L118.68 170.79 L119.83 170.47 L120.98 170.14 L122.12 169.81 L123.27 169.47 L124.41 169.13 L125.55 168.78 L126.69 168.44 L127.83 168.09 L128.97 167.73 L130.10 167.38 L131.24 167.02 L132.37 166.66 L133.50 166.30 L134.64 165.94 L135.77 165.58 L136.90 165.22 L138.03 164.85 L139.16 164.49 L140.29 164.12 L141.42 163.76 L142.55 163.39 L143.68 163.02 L144.81 162.65 L145.93 162.28 L147.06 161.92 L148.19 161.55 L149.32 161.18 L150.45 160.81 L151.58 160.45 L152.71 160.08 L153.84 159.72 L154.97 159.35 L156.10 158.99 L157.23 158.63 L158.36 158.27 L159.49 157.91 L160.63 157.56 L161.76 157.20 L162.89 156.85 L164.03 156.50 L165.17 156.15 L166.30 155.80 L167.44 155.46 L168.58 155.12 L169.73 154.78 L170.87 154.44 L172.01 154.11 L173.16 153.78 L174.30 153.45 L175.45 153.13 L176.60 152.81 L177.76 152.49 L178.91 152.17 L180.07 151.85 L181.22 151.54 L182.38 151.23 L183.54 150.93 L184.71 150.63 L185.87 150.33 L187.04 150.03 L188.21 149.74 L189.39 149.44 L190.56 149.16 L191.74 148.87 L192.92 148.59 L194.11 148.31 L195.29 148.04 L196.48 147.77 L197.67 147.51 L198.86 147.25 L200.06 147.00 L201.26 146.76 L202.46 146.53 L203.66 146.31 L204.87 146.10 L206.07 145.90 L207.28 145.72 L208.49 145.54 L209.71 145.38 L210.92 145.23 L212.14 145.10 L213.36 144.98 L214.58 144.88 L215.80 144.80 L217.03 144.73 L218.25 144.69 L219.48 144.66 L220.71 144.65 L221.94 144.66 L223.17 144.70 L224.41 144.75 L225.64 144.83 L226.88 144.92 L228.11 145.03 L229.34 145.16 L230.57 145.30 L231.80 145.45 L233.03 145.62 L234.25 145.80 L235.47 145.98 L236.69 146.18 L237.89 146.39 L239.10 146.60 L240.30 146.82 L241.49 147.06 L242.67 147.31 L243.85 147.58 L245.01 147.87 L246.17 148.18 L247.32 148.51 L248.45 148.86 L249.58 149.23 L250.68 149.63 L251.78 150.05 L252.86 150.49 L253.91 150.95 L254.96 151.44 L255.98 151.94 L256.98 152.47 L257.95 153.01 L258.91 153.58 L259.84 154.16 L260.75 154.76 L261.64 155.38 L262.51 156.01 L263.38 156.64 L264.23 157.29 L265.09 157.93 L265.94 158.58 L266.79 159.23 L267.65 159.88 L268.52 160.53 L269.38 161.17 L270.25 161.82 L271.12 162.46 L271.99 163.11 L272.85 163.76 L273.72 164.41 L274.58 165.06 L275.43 165.71 L276.28 166.37 L277.12 167.03 L277.95 167.70 L278.78 168.37 L279.59 169.05 L280.39 169.73 L281.18 170.42 L281.96 171.11 L282.73 171.81 L283.49 172.52 L284.24 173.23 L284.97 173.94 L285.70 174.66 L286.42 175.39 L287.13 176.12 L287.83 176.85 L288.52 177.59 L289.20 178.34 L289.88 179.08 L290.54 179.84 L291.20 180.59 L291.84 181.35 L292.48 182.12 L293.11 182.89 L293.73 183.66 L294.35 184.43 L294.95 185.21 L295.55 186.00 L296.14 186.78 L296.73 187.57 L297.31 188.37 L297.88 189.16 L298.44 189.96 L299.00 190.76 L299.55 191.57 L300.09 192.37 L300.63 193.18 L301.16 193.99 L301.69 194.81 L302.21 195.62 L302.73 196.44 L303.24 197.26 L303.74 198.09 L304.24 198.91 L304.73 199.74 L305.22 200.56 L305.71 201.39 L306.19 202.22 L306.67 203.05 L307.14 203.88 L307.61 204.72 L308.07 205.55 L308.54 206.39 L308.99 207.22 L309.45 208.06 L309.90 208.90 L310.35 209.74 L310.79 210.57 L311.24 211.41 L311.68 212.25 L312.11 213.09 L312.55 213.93 L312.98 214.76 L313.41 215.60 L313.84 216.44 L314.27 217.27 L314.70 218.11 L315.12 218.94 L315.55 219.78 L315.97 220.61 L316.39 221.44"/>
<path d="M75.10 37.32 L75.16 38.11 L75.22 38.89 L75.27 39.68 L75.33 40.47 L75.39 41.26 L75.45 42.04 L75.51 42.83 L75.57 43.62 L75.63 44.40 L75.69 45.19 L75.75 45.97 L75.81 46.76 L75.87 47.54 L75.94 48.33 L76.00 49.11 L76.06 49.90 L76.13 50.68 L76.19 51.47 L76.26 52.25 L76.32 53.03 L76.39 53.82 L76.45 54.60 L76.52 55.38 L76.59 56.17 L76.66 56.95 L76.73 57.73 L76.80 58.52 L76.87 59.30 L76.94 60.08 L77.01 60.86 L77.08 61.65 L77.16 62.43 L77.23 63.21 L77.31 63.99 L77.38 64.78 L77.46 65.56 L77.54 66.34 L77.62 67.12 L77.70 67.90 L77.78 68.69 L77.86 69.47 L77.94 70.25 L78.02 71.03 L78.11 71.81 L78.19 72.59 L78.28 73.38 L78.36 74.16 L78.45 74.94 L78.54 75.72 L78.63 76.50 L78.72 77.29 L78.81 78.07 L78.90 78.85 L79.00 79.63 L79.09 80.41 L79.19 81.20 L79.29 81.98 L79.39 82.76 L79.48 83.54 L79.59 84.33 L79.69 85.11 L79.79 85.89 L79.89 86.68 L80.00 87.46 L80.11 88.24 L80.22 89.02 L80.32 89.81 L80.44 90.59 L80.55 91.38 L80.66 92.16 L80.77 92.94 L80.89 93.73 L81.01 94.51 L81.13 95.30 L81.25 96.08 L81.37 96.87 L81.50 97.65 L81.63 98.43 L81.76 99.22 L81.90 100.00 L82.04 100.78 L82.18 101.57 L82.33 102.35 L82.48 103.13 L82.64 103.91 L82.80 104.69 L82.96 105.47 L83.13 106.25 L83.31 107.03 L83.49 107.80 L83.68 108.58 L83.87 109.35 L84.07 110.13 L84.28 110.90 L84.50 111.67 L84.72 112.44 L84.95 113.21 L85.18 113.98 L85.43 114.74 L85.68 115.51 L85.94 116.27 L86.21 117.03 L86.49 117.79 L86.77 118.55 L87.07 119.30 L87.37 120.06 L87.69 120.81 L88.01 121.56 L88.35 122.30 L88.70 123.05 L89.05 123.79 L89.42 124.53 L89.80 125.27 L90.19 126.01 L90.59 126.74 L91.00 127.47 L91.43 128.20 L91.87 128.93 L92.32 129.65 L92.78 130.37 L93.26 131.09 L93.75 131.81 L94.25 132.52 L94.77 133.22 L95.30 133.93 L95.85 134.62 L96.41 135.31 L97.00 135.98 L97.60 136.65 L98.21 137.30 L98.85 137.94 L99.51 138.56 L100.19 139.17 L100.89 139.76 L101.61 140.33 L102.36 140.88 L103.13 141.40 L103.92 141.90 L104.74 142.38 L105.58 142.83 L106.45 143.26 L107.35 143.65 L108.28 144.01 L109.23 144.35 L110.21 144.65 L111.22 144.92 L112.24 145.16 L113.28 145.38 L114.34 145.57 L115.42 145.73 L116.50 145.87 L117.60 145.99 L118.70 146.08 L119.80 146.15 L120.91 146.20 L122.01 146.23 L123.12 146.24 L124.22 146.23 L125.31 146.21 L126.41 146.16 L127.50 146.11 L128.59 146.03 L129.67 145.94 L130.76 145.84 L131.84 145.72 L132.92 145.60 L133.99 145.45 L135.06 145.30 L136.13 145.14 L137.20 144.96 L138.26 144.78 L139.33 144.58 L140.39 144.38 L141.44 144.17 L142.50 143.96 L143.55 143.74 L144.60 143.51 L145.65 143.27 L146.69 143.04 L147.73 142.79 L148.78 142.55 L149.81 142.30 L150.85 142.05 L151.88 141.80 L152.92 141.55 L153.95 141.30 L154.97 141.05 L156.00 140.81 L157.02 140.56 L158.05 140.31 L159.07 140.07 L160.09 139.82 L161.11 139.57 L162.13 139.33 L163.15 139.08 L164.17 138.84 L165.19 138.60 L166.22 138.35 L167.24 138.11 L168.27 137.86 L169.29 137.62 L170.32 137.38 L171.35 137.14 L172.38 136.90 L173.42 136.66 L174.45 136.42 L175.49 136.19 L176.52 135.95 L177.56 135.72 L178.60 135.50 L179.64 135.27 L180.69 135.05 L181.73 134.84 L182.78 134.63 L183.83 134.42 L184.88 134.22 L185.93 134.02 L186.98 133.83 L188.03 133.64 L189.09 133.46 L190.15 133.28 L191.21 133.11 L192.27 132.95 L193.33 132.79 L194.39 132.64 L195.46 132.50 L196.53 132.37 L197.60 132.24 L198.67 132.12 L199.74 132.01 L200.82 131.91 L201.89 131.82 L202.97 131.74 L204.05 131.67 L205.13 131.61 L206.22 131.55 L207.30 131.51 L208.39 131.48 L209.48 131.46 L210.56 131.45 L211.65 131.45 L212.74 131.46 L213.83 131.48 L214.92 131.52 L216.01 131.56 L217.09 131.62 L218.18 131.68 L219.26 131.76 L220.35 131.85 L221.43 131.96 L222.50 132.07 L223.58 132.20 L224.65 132.34 L225.71 132.49 L226.78 132.65 L227.84 132.82 L228.89 133.01 L229.94 133.21 L230.98 133.42 L232.02 133.65 L233.06 133.89 L234.08 134.14 L235.10 134.40 L236.12 134.68 L237.13 134.97 L238.13 135.28 L239.12 135.59 L240.10 135.92 L241.08 136.27 L242.05 136.62 L243.00 136.99 L243.95 137.37 L244.89 137.77 L245.82 138.17 L246.74 138.59 L247.65 139.02 L248.55 139.46 L249.44 139.91 L250.32 140.37 L251.19 140.85 L252.04 141.33 L252.88 141.83 L253.71 142.33 L254.53 142.85 L255.33 143.37 L256.12 143.91 L256.90 144.45 L257.66 145.01 L258.42 145.57 L259.16 146.14 L259.90 146.71 L260.62 147.29 L261.35 147.88 L262.06 148.47 L262.78 149.06 L263.49 149.65 L264.20 150.25 L264.90 150.85 L265.61 151.45 L266.30 152.05 L267.00 152.66 L267.69 153.26 L268.38 153.87 L269.07 154.49 L269.75 155.10 L270.43 155.72 L271.10 156.34 L271.77 156.96 L272.43 157.58 L273.09 158.21 L273.75 158.84 L274.40 159.47 L275.05 160.10 L275.69 160.74 L276.32 161.38 L276.96 162.02 L277.58 162.66 L278.20 163.31 L278.81 163.96 L279.42 164.61 L280.03 165.27 L280.62 165.92 L281.21 166.58 L281.80 167.24 L282.37 167.91 L282.95 168.58 L283.51 169.25 L284.07 169.92 L284.62 170.59 L285.16 171.27 L285.70 171.95 L286.23 172.64 L286.75 173.32 L287.27 174.01 L287.78 174.70 L288.29 175.39 L288.79 176.09 L289.28 176.78 L289.77 177.48 L290.25 178.19 L290.73 178.89 L291.20 179.59 L291.66 180.30 L292.12 181.01 L292.58 181.72 L293.03 182.44 L293.48 183.15 L293.92 183.87 L294.35 184.59 L294.79 185.31 L295.21 186.03 L295.64 186.75 L296.06 187.47 L296.48 188.20 L296.89 188.93 L297.30 189.66 L297.70 190.38 L298.10 191.12 L298.50 191.85 L298.90 192.58 L299.29 193.31 L299.68 194.05 L300.07 194.79 L300.45 195.52 L300.83 196.26 L301.21 197.00 L301.59 197.74 L301.96 198.48 L302.33 199.22 L302.71 199.96 L303.07 200.70 L303.44 201.44 L303.81 202.18 L304.17 202.93 L304.53 203.67 L304.90 204.41 L305.26 205.16 L305.62 205.90 L305.98 206.64 L306.33 207.39 L306.69 208.13 L307.05 208.87 L307.41 209.62 L307.76 210.36 L308.12 211.10 L308.48 211.85 L308.83 212.59 L309.19 213.33 L309.55 214.07 L309.91 214.81 L310.27 215.55 L310.63 216.29 L310.99 217.03 L311.35 217.77 L311.71 218.51 L312.08 219.25 L312.44 219.98 L312.81 220.72 L313.18 221.45"/>
<path d="M92.99 37.33 L93.17 37.98 L93.35 38.63 L93.52 39.28 L93.69 39.94 L93.86 40.60 L94.02 41.26 L94.18 41.92 L94.34 42.59 L94.49 43.26 L94.65 43.93 L94.80 44.60 L94.94 45.27 L95.09 45.95 L95.23 46.62 L95.38 47.30 L95.52 47.98 L95.66 48.66 L95.80 49.35 L95.93 50.03 L96.07 50.72 L96.21 51.40 L96.34 52.09 L96.48 52.78 L96.61 53.47 L96.75 54.16 L96.88 54.85 L97.02 55.54 L97.15 56.23 L97.29 56.93 L97.43 57.62 L97.57 58.31 L97.71 59.01 L97.85 59.70 L97.99 60.40 L98.14 61.09 L98.29 61.79 L98.43 62.48 L98.59 63.17 L98.74 63.87 L98.90 64.56 L99.05 65.26 L99.22 65.95 L99.38 66.64 L99.55 67.33 L99.72 68.03 L99.90 68.72 L100.07 69.41 L100.26 70.10 L100.44 70.78 L100.63 71.47 L100.83 72.16 L101.03 72.84 L101.24 73.52 L101.45 74.21 L101.66 74.89 L101.88 75.57 L102.11 76.24 L102.34 76.92 L102.57 77.59 L102.82 78.27 L103.07 78.94 L103.32 79.61 L103.58 80.27 L103.85 80.94 L104.13 81.60 L104.41 82.26 L104.70 82.92 L105.00 83.57 L105.30 84.23 L105.61 84.88 L105.93 85.52 L106.26 86.17 L106.60 86.81 L106.94 87.45 L107.29 88.09 L107.66 88.72 L108.03 89.35 L108.41 89.98 L108.79 90.60 L109.19 91.22 L109.60 91.84 L110.02 92.45 L110.44 93.06 L110.88 93.67 L111.33 94.27 L111.78 94.87 L112.25 95.47 L112.73 96.06 L113.22 96.65 L113.72 97.23 L114.23 97.81 L114.75 98.39 L115.29 98.96 L115.84 99.52 L116.39 100.09 L116.96 100.64 L117.55 101.20 L118.14 101.74 L118.75 102.28 L119.37 102.82 L120.00 103.35 L120.64 103.86 L121.29 104.38 L121.96 104.88 L122.64 105.37 L123.33 105.85 L124.04 106.33 L124.75 106.79 L125.48 107.24 L126.22 107.68 L126.97 108.11 L127.74 108.52 L128.52 108.92 L129.31 109.31 L130.11 109.68 L130.93 110.04 L131.75 110.38 L132.59 110.71 L133.45 111.02 L134.31 111.31 L135.19 111.59 L136.07 111.85 L136.97 112.09 L137.87 112.32 L138.79 112.53 L139.70 112.73 L140.63 112.91 L141.55 113.08 L142.48 113.23 L143.42 113.37 L144.36 113.49 L145.29 113.60 L146.24 113.70 L147.18 113.78 L148.12 113.86 L149.07 113.92 L150.02 113.97 L150.97 114.01 L151.92 114.04 L152.87 114.06 L153.83 114.07 L154.78 114.08 L155.74 114.07 L156.70 114.06 L157.65 114.05 L158.61 114.02 L159.57 113.99 L160.53 113.96 L161.48 113.92 L162.44 113.87 L163.40 113.83 L164.36 113.78 L165.31 113.72 L166.27 113.67 L167.22 113.61 L168.18 113.55 L169.13 113.49 L170.08 113.43 L171.03 113.37 L171.98 113.32 L172.92 113.26 L173.87 113.20 L174.82 113.14 L175.76 113.08 L176.71 113.03 L177.66 112.97 L178.60 112.92 L179.55 112.87 L180.50 112.82 L181.45 112.77 L182.40 112.72 L183.35 112.67 L184.30 112.63 L185.25 112.59 L186.20 112.55 L187.16 112.52 L188.11 112.49 L189.06 112.46 L190.02 112.43 L190.97 112.41 L191.93 112.40 L192.88 112.38 L193.84 112.37 L194.79 112.37 L195.75 112.37 L196.70 112.38 L197.66 112.39 L198.61 112.41 L199.56 112.43 L200.52 112.45 L201.47 112.49 L202.42 112.53 L203.37 112.58 L204.32 112.63 L205.27 112.69 L206.22 112.76 L207.17 112.83 L208.11 112.91 L209.06 113.00 L210.00 113.10 L210.95 113.21 L211.89 113.32 L212.83 113.44 L213.77 113.57 L214.70 113.71 L215.64 113.86 L216.57 114.02 L217.50 114.19 L218.42 114.36 L219.35 114.55 L220.26 114.74 L221.18 114.94 L222.09 115.15 L223.00 115.37 L223.90 115.60 L224.80 115.84 L225.69 116.09 L226.58 116.35 L227.46 116.61 L228.33 116.89 L229.20 117.18 L230.06 117.47 L230.92 117.78 L231.77 118.09 L232.61 118.42 L233.44 118.75 L234.26 119.09 L235.08 119.45 L235.89 119.81 L236.69 120.18 L237.48 120.57 L238.26 120.96 L239.03 121.36 L239.80 121.77 L240.55 122.19 L241.30 122.62 L242.04 123.06 L242.77 123.50 L243.50 123.95 L244.22 124.40 L244.94 124.87 L245.65 125.33 L246.35 125.80 L247.05 126.27 L247.75 126.75 L248.44 127.23 L249.13 127.71 L249.81 128.20 L250.50 128.68 L251.18 129.17 L251.86 129.66 L252.53 130.15 L253.20 130.64 L253.87 131.14 L254.53 131.64 L255.18 132.14 L255.84 132.64 L256.48 133.15 L257.12 133.66 L257.75 134.17 L258.38 134.69 L258.99 135.21 L259.60 135.74 L260.20 136.27 L260.79 136.81 L261.38 137.35 L261.95 137.90 L262.51 138.45 L263.06 139.01 L263.61 139.58 L264.14 140.15 L264.67 140.72 L265.19 141.30 L265.70 141.89 L266.21 142.47 L266.71 143.06 L267.21 143.65 L267.71 144.24 L268.21 144.83 L268.70 145.43 L269.20 146.02 L269.69 146.61 L270.19 147.20 L270.69 147.80 L271.18 148.39 L271.67 148.98 L272.17 149.58 L272.66 150.17 L273.15 150.76 L273.64 151.36 L274.12 151.96 L274.60 152.55 L275.08 153.15 L275.56 153.75 L276.03 154.35 L276.50 154.95 L276.97 155.55 L277.43 156.16 L277.88 156.76 L278.33 157.37 L278.78 157.98 L279.22 158.59 L279.65 159.20 L280.08 159.82 L280.50 160.44 L280.92 161.06 L281.33 161.68 L281.73 162.31 L282.13 162.93 L282.52 163.56 L282.90 164.19 L283.29 164.83 L283.66 165.46 L284.04 166.10 L284.41 166.73 L284.78 167.37 L285.14 168.01 L285.51 168.65 L285.87 169.29 L286.23 169.93 L286.59 170.57 L286.95 171.20 L287.31 171.84 L287.67 172.48 L288.04 173.12 L288.40 173.76 L288.76 174.40 L289.12 175.04 L289.48 175.68 L289.84 176.32 L290.19 176.97 L290.55 177.61 L290.91 178.25 L291.26 178.89 L291.62 179.53 L291.97 180.17 L292.32 180.81 L292.68 181.46 L293.03 182.10 L293.37 182.74 L293.72 183.38 L294.06 184.03 L294.41 184.67 L294.75 185.32 L295.09 185.96 L295.42 186.61 L295.76 187.26 L296.09 187.90 L296.42 188.55 L296.74 189.20 L297.07 189.85 L297.39 190.50 L297.71 191.15 L298.02 191.80 L298.34 192.45 L298.65 193.11 L298.95 193.76 L299.26 194.42 L299.56 195.07 L299.85 195.73 L300.14 196.39 L300.43 197.04 L300.72 197.70 L301.00 198.36 L301.28 199.03 L301.55 199.69 L301.82 200.35 L302.08 201.02 L302.34 201.68 L302.60 202.35 L302.85 203.02 L303.09 203.69 L303.33 204.36 L303.57 205.03 L303.80 205.71 L304.03 206.38 L304.25 207.06 L304.47 207.73 L304.69 208.41 L304.91 209.09 L305.13 209.76 L305.36 210.44 L305.58 211.11 L305.82 211.79 L306.06 212.46 L306.31 213.13 L306.57 213.79 L306.84 214.46 L307.13 215.12 L307.43 215.77 L307.74 216.42 L308.07 217.07 L308.42 217.71 L308.79 218.35 L309.19 218.98 L309.60 219.61 L310.04 220.23 L310.50 220.84 L310.99 221.45"/>
</g>
</g>
<g transform="scale(1 1.3)" stroke="#000" stroke-width="1.1" fill="none" stroke-linecap="round" stroke-linejoin="round">
<path d="M 28.80 54.33 L 28.80 44.94 L 25.77 46.27"/>
<path d="M 25.59 54.33 L 32.01 54.33"/>
<ellipse cx="39.80" cy="53.62" rx="1.32" ry="1.13" fill="#000" stroke="none"/>
<path d="M 53.64 44.94 L 48.05 44.94 L 48.05 49.01 C 48.97 48.31 50.07 48.07 50.98 48.07 C 53.00 48.07 54.14 49.48 54.14 51.20 C 54.14 53.08 52.82 54.48 50.62 54.48 C 48.97 54.48 47.68 53.86 47.04 52.92"/>
<path d="M 17.80 78.72 L 17.80 69.34 L 14.77 70.67"/>
<path d="M 14.59 78.72 L 21.01 78.72"/>
<ellipse cx="28.80" cy="78.02" rx="1.32" ry="1.13" fill="#000" stroke="none"/>
<path d="M 36.32 72.15 C 36.32 70.28 37.78 69.18 39.71 69.18 C 41.63 69.18 42.92 70.28 42.92 71.84 C 42.92 73.25 41.63 74.19 39.80 75.44 C 37.97 76.69 36.50 77.63 36.04 78.72 L 43.28 78.72 L 43.28 77.63"/>
<path d="M 53.64 69.34 L 48.05 69.34 L 48.05 73.40 C 48.97 72.70 50.07 72.47 50.98 72.47 C 53.00 72.47 54.14 73.87 54.14 75.59 C 54.14 77.47 52.82 78.88 50.62 78.88 C 48.97 78.88 47.68 78.25 47.04 77.31"/>
<path d="M 50.80 103.12 L 50.80 93.73 L 47.77 95.06"/>
<path d="M 47.59 103.12 L 54.01 103.12"/>
<ellipse cx="17.80" cy="122.82" rx="3.35" ry="4.85"/>
<ellipse cx="28.80" cy="126.81" rx="1.32" ry="1.13" fill="#000" stroke="none"/>
<path d="M 36.13 119.22 L 36.13 118.13 L 43.10 118.13 L 39.62 127.51"/>
<path d="M 53.64 118.13 L 48.05 118.13 L 48.05 122.19 C 48.97 121.49 50.07 121.25 50.98 121.25 C 53.00 121.25 54.14 122.66 54.14 124.38 C 54.14 126.26 52.82 127.67 50.62 127.67 C 48.97 127.67 47.68 127.04 47.04 126.10"/>
<ellipse cx="28.80" cy="147.21" rx="3.35" ry="4.85"/>
<ellipse cx="39.80" cy="151.20" rx="1.32" ry="1.13" fill="#000" stroke="none"/>
<path d="M 53.64 142.52 L 48.05 142.52 L 48.05 146.59 C 48.97 145.88 50.07 145.65 50.98 145.65 C 53.00 145.65 54.14 147.06 54.14 148.78 C 54.14 150.65 52.82 152.06 50.62 152.06 C 48.97 152.06 47.68 151.43 47.04 150.50"/>
<ellipse cx="17.80" cy="171.61" rx="3.35" ry="4.85"/>
<ellipse cx="28.80" cy="175.59" rx="1.32" ry="1.13" fill="#000" stroke="none"/>
<path d="M 36.32 169.73 C 36.32 167.85 37.78 166.76 39.71 166.76 C 41.63 166.76 42.92 167.85 42.92 169.42 C 42.92 170.82 41.63 171.76 39.80 173.01 C 37.97 174.27 36.50 175.20 36.04 176.30 L 43.28 176.30 L 43.28 175.20"/>
<path d="M 53.64 166.91 L 48.05 166.91 L 48.05 170.98 C 48.97 170.28 50.07 170.04 50.98 170.04 C 53.00 170.04 54.14 171.45 54.14 173.17 C 54.14 175.05 52.82 176.45 50.62 176.45 C 48.97 176.45 47.68 175.83 47.04 174.89"/>
<path d="M 3.32 220.55 L 10.28 220.55"/>
<ellipse cx="17.80" cy="220.40" rx="3.35" ry="4.85"/>
<ellipse cx="28.80" cy="224.38" rx="1.32" ry="1.13" fill="#000" stroke="none"/>
<path d="M 36.32 218.52 C 36.32 216.64 37.78 215.55 39.71 215.55 C 41.63 215.55 42.92 216.64 42.92 218.21 C 42.92 219.61 41.63 220.55 39.80 221.80 C 37.97 223.05 36.50 223.99 36.04 225.09 L 43.28 225.09 L 43.28 223.99"/>
<path d="M 53.64 215.70 L 48.05 215.70 L 48.05 219.77 C 48.97 219.07 50.07 218.83 50.98 218.83 C 53.00 218.83 54.14 220.24 54.14 221.96 C 54.14 223.84 52.82 225.24 50.62 225.24 C 48.97 225.24 47.68 224.62 47.04 223.68"/>
<ellipse cx="94.58" cy="205.69" rx="3.35" ry="4.85"/>
<ellipse cx="105.58" cy="209.68" rx="1.32" ry="1.13" fill="#000" stroke="none"/>
<path d="M 113.10 203.82 C 113.10 201.94 114.56 200.85 116.49 200.85 C 118.41 200.85 119.70 201.94 119.70 203.50 C 119.70 204.91 118.41 205.85 116.58 207.10 C 114.75 208.35 113.28 209.29 112.82 210.38 L 120.06 210.38 L 120.06 209.29"/>
<ellipse cx="141.86" cy="205.69" rx="3.35" ry="4.85"/>
<ellipse cx="152.86" cy="209.68" rx="1.32" ry="1.13" fill="#000" stroke="none"/>
<path d="M 165.42 210.38 L 165.42 201.00 L 160.10 207.41 L 167.53 207.41"/>
<path d="M 163.13 210.38 L 167.34 210.38"/>
<ellipse cx="189.14" cy="205.69" rx="3.35" ry="4.85"/>
<ellipse cx="200.14" cy="209.68" rx="1.32" ry="1.13" fill="#000" stroke="none"/>
<path d="M 214.26 201.16 C 213.71 200.92 213.16 200.85 212.61 200.85 C 209.86 200.85 207.93 203.19 207.93 206.47 C 207.93 208.98 209.31 210.54 211.23 210.54 C 213.16 210.54 214.44 209.21 214.44 207.41 C 214.44 205.69 213.16 204.36 211.32 204.36 C 209.67 204.36 208.39 205.38 207.93 206.47"/>
<ellipse cx="236.42" cy="205.69" rx="3.35" ry="4.85"/>
<ellipse cx="247.42" cy="209.68" rx="1.32" ry="1.13" fill="#000" stroke="none"/>
<ellipse cx="258.42" cy="203.27" rx="2.71" ry="2.42"/>
<ellipse cx="258.42" cy="208.04" rx="3.15" ry="2.50"/>
<path d="M 294.70 210.38 L 294.70 201.00 L 291.67 202.33"/>
<path d="M 291.49 210.38 L 297.91 210.38"/>
<path d="M 330.98 210.38 L 330.98 201.00 L 327.95 202.33"/>
<path d="M 327.77 210.38 L 334.19 210.38"/>
<ellipse cx="341.98" cy="209.68" rx="1.32" ry="1.13" fill="#000" stroke="none"/>
<path d="M 349.50 203.82 C 349.50 201.94 350.96 200.85 352.89 200.85 C 354.81 200.85 356.10 201.94 356.10 203.50 C 356.10 204.91 354.81 205.85 352.98 207.10 C 351.15 208.35 349.68 209.29 349.22 210.38 L 356.46 210.38 L 356.46 209.29"/>
<path d="M 404.32 199.77 L 404.32 191.32"/>
<path d="M 402.40 191.32 L 404.32 191.32 L 407.35 191.32 C 409.18 191.32 410.10 192.26 410.10 193.51 C 410.10 194.76 409.18 195.70 407.35 195.70 L 404.32 195.70"/>
<path d="M 407.35 195.70 C 408.45 196.02 409.37 198.21 410.37 199.77 L 411.75 199.77"/>
<path d="M 402.40 199.77 L 405.97 199.77"/>
<path d="M 39.60 24.77 L 39.60 16.32"/>
<path d="M 37.67 16.32 L 45.74 16.32 L 45.74 18.51"/>
<path d="M 39.60 20.47 L 43.08 20.47"/>
<path d="M 43.08 19.30 L 43.08 21.64"/>
<path d="M 37.67 24.77 L 42.53 24.77"/>
<path d="M 51.70 22.42 L 53.90 22.42 L 50.97 27.12 L 49.87 27.12 Z" fill="#000" stroke-width="0.4"/>
<path d="M 70.58 18.51 L 70.58 16.32 L 79.01 16.32 L 79.01 18.51"/>
<path d="M 74.80 16.32 L 74.80 24.77"/>
<path d="M 72.32 24.77 L 77.27 24.77"/>
</g>
</svg>
<div class="t" style="left:23.3px;top:54.3px">1.5</div>
<div class="t" style="left:12.3px;top:86.0px">1.25</div>
<div class="t" style="left:45.3px;top:117.8px">1</div>
<div class="t" style="left:12.3px;top:149.5px">0.75</div>
<div class="t" style="left:23.3px;top:181.2px">0.5</div>
<div class="t" style="left:12.3px;top:212.9px">0.25</div>
<div class="t" style="left:1.3px;top:276.3px">-0.25</div>
<div class="t" style="left:89.1px;top:257.3px">0.2</div>
<div class="t" style="left:136.4px;top:257.3px">0.4</div>
<div class="t" style="left:183.6px;top:257.3px">0.6</div>
<div class="t" style="left:230.9px;top:257.3px">0.8</div>
<div class="t" style="left:289.2px;top:257.3px">1</div>
<div class="t" style="left:325.5px;top:257.3px">1.2</div>
<div class="t" style="left:401.3px;top:244.3px">R</div>
<div class="t" style="left:36.3px;top:17.0px">F, T</div>
</div></body></html>
